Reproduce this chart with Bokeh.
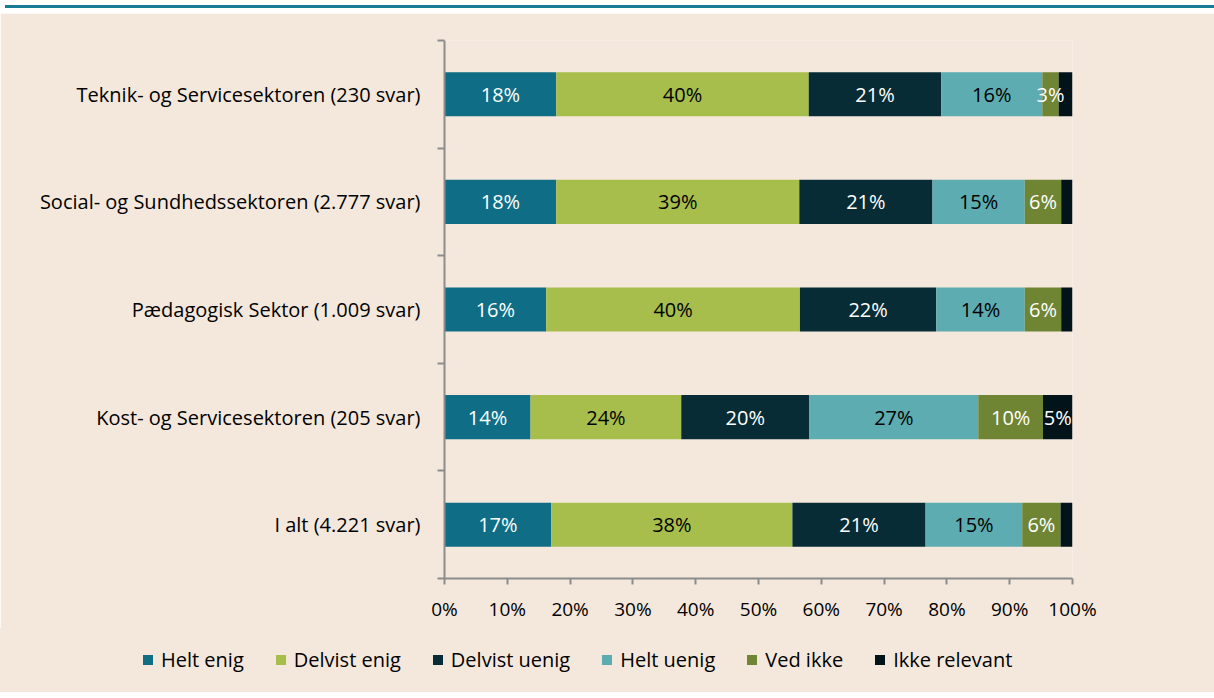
from bokeh.plotting import figure
from bokeh.models import (ColumnDataSource, Range1d, FixedTicker, Div)
from bokeh.layouts import column
from bokeh.embed import file_html
from bokeh.resources import INLINE
from bokeh.core.properties import value

categories = [
    "Teknik- og Servicesektoren (230 svar)",
    "Social- og Sundhedssektoren (2.777 svar)",
    "Pædagogisk Sektor (1.009 svar)",
    "Kost- og Servicesektoren (205 svar)",
    "I alt (4.221 svar)",
]
series = ["Helt enig", "Delvist enig", "Delvist uenig", "Helt uenig", "Ved ikke", "Ikke relevant"]
helt_enig = [17.8, 17.8, 16.2, 13.7, 17.0]
delvist_enig = [40.2, 38.7, 40.4, 24.0, 38.4]
delvist_uenig = [21.1, 21.2, 21.7, 20.4, 21.2]
helt_uenig = [16.1, 14.7, 14.1, 26.9, 15.4]
ved_ikke = [2.6, 5.8, 5.8, 10.3, 6.1]
ikke_relevant = [2.2, 1.8, 1.8, 4.7, 1.9]
x_ticks = [0, 10, 20, 30, 40, 50, 60, 70, 80, 90, 100]
x_tick_labels = ["0%", "10%", "20%", "30%", "40%", "50%", "60%", "70%", "80%", "90%", "100%"]

colors = ["#0F6E86", "#A7BE4C", "#082C35", "#5DACB1", "#6F8533", "#021319"]
label_colors = ["#FFFFFF", "#000000", "#FFFFFF", "#000000", "#FFFFFF", "#FFFFFF"]
BG = "#F4E8DC"
AXIS = "#8C8C8C"
FONT = "Open Sans"

values = [helt_enig, delvist_enig, delvist_uenig, helt_uenig, ved_ikke, ikke_relevant]
n = len(categories)
ypos = [n - i - 0.5 for i in range(n)]

data = {"y": ypos}
for s, v in zip(series, values):
    data[s] = v
source = ColumnDataSource(data)

W = 1214
H1 = 615
H2 = 64
p = figure(width=W, height=H1, output_backend="svg", toolbar_location=None,
           x_range=Range1d(0, 100), y_range=Range1d(0, n),
           min_border_left=444, min_border_right=W - 1072, min_border_top=27, min_border_bottom=50)
p.background_fill_color = BG
p.border_fill_color = BG
p.outline_line_color = None
p.xgrid.visible = False
p.ygrid.visible = False

rs = p.hbar_stack(series, y="y", height=0.41, color=colors, line_color=None, source=source)

# labels
left = [0.0] * n
for s, v, tc in zip(series, values, label_colors):
    xs = [l + vv / 2 for l, vv in zip(left, v)]
    txt = [f"{round(vv)}%" if round(vv) >= 3 else "" for vv in v]
    p.text(x=xs, y=ypos, text=txt, text_align="center", text_baseline="middle",
           text_color=tc, text_font=value(FONT), text_font_size="20px")
    left = [l + vv for l, vv in zip(left, v)]

# x axis
xa = p.xaxis[0]
xa.ticker = FixedTicker(ticks=x_ticks, minor_ticks=[])
xa.major_label_overrides = {t: l for t, l in zip(x_ticks, x_tick_labels)}
xa.axis_line_color = AXIS
xa.axis_line_width = 2
xa.major_tick_line_color = AXIS
xa.major_tick_line_width = 2
xa.major_tick_out = 6
xa.major_tick_in = 0
xa.minor_tick_out = 0
xa.minor_tick_in = 0
xa.major_label_text_font = FONT
xa.major_label_text_font_size = "19px"
xa.major_label_text_color = "#000000"
xa.major_label_standoff = 11

# y axis
ya = p.yaxis[0]
ya.ticker = FixedTicker(ticks=ypos, minor_ticks=[float(i) for i in range(n + 1)])
ya.major_label_overrides = {y: c for y, c in zip(ypos, categories)}
ya.axis_line_color = AXIS
ya.axis_line_width = 2
ya.major_tick_out = 0
ya.major_tick_in = 0
ya.minor_tick_line_color = AXIS
ya.minor_tick_line_width = 2
ya.minor_tick_out = 7
ya.minor_tick_in = 0
ya.major_label_text_font = FONT
ya.major_label_text_font_size = "20px"
ya.major_label_text_color = "#000000"
ya.major_label_standoff = 17

# legend strip below the chart
items_html = "".join(
    f'<span style="display:inline-flex;align-items:center;margin-right:32px;">'
    f'<span style="display:inline-block;width:10px;height:10px;background:{c};margin-right:8px;"></span>'
    f'<span>{s}</span></span>'
    for s, c in zip(series, colors)
)
legend_div = Div(
    text=f'<div style="display:flex;align-items:center;height:{H2}px;padding-left:143px;'
         f'font-family:\'{FONT}\';font-size:20px;color:#000;white-space:nowrap;">{items_html}</div>',
    width=W, height=H2, styles={"background-color": BG, "margin": "0", "padding": "0"})

bar = Div(text="", width=W, height=3, styles={"background-color": "#177B95"})
layout = column(bar, p, legend_div, spacing=0)

open("out.html", "w").write(file_html(layout, INLINE))
